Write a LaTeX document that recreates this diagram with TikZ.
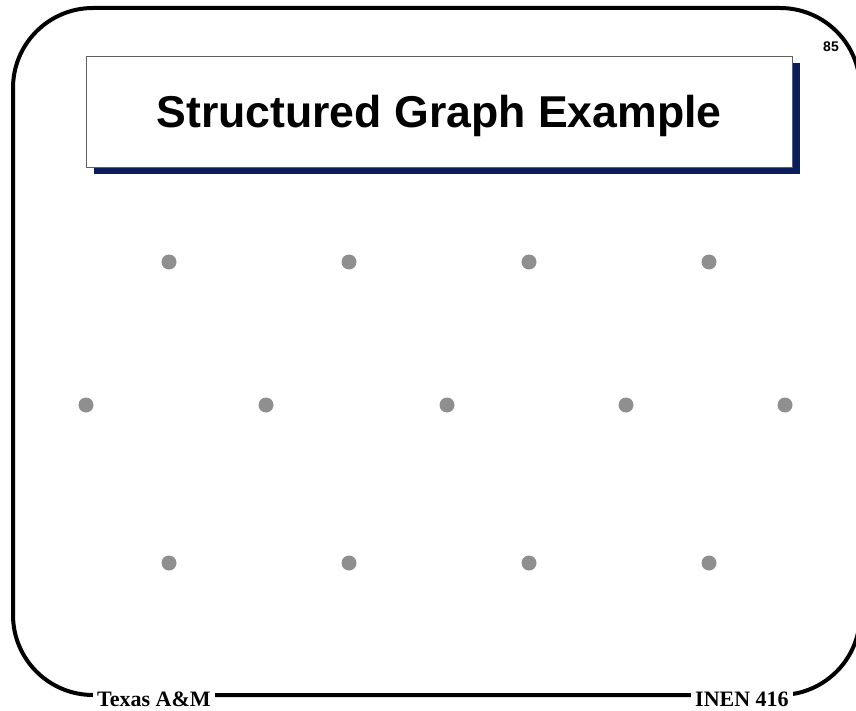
\documentclass[tikz,border=0pt]{standalone}
\usepackage{fontspec}
\setmainfont{Liberation Serif}
\newfontfamily\headfont{Liberation Sans}
\definecolor{navyshadow}{RGB}{12,30,90}
\definecolor{dotgray}{RGB}{143,143,143}
\definecolor{boxedge}{RGB}{96,96,96}
\tikzset{
  vertex/.style={circle, fill=dotgray, draw=none, minimum size=15pt, inner sep=0pt},
  slideframe/.style={line width=4pt, draw=black, rounded corners=80pt},
  footer/.style={fill=white, inner xsep=4pt, inner ysep=1pt, font=\bfseries\fontsize{22}{24}\selectfont},
}
\begin{document}
\begin{tikzpicture}[x=1pt, y=-1pt]
  \useasboundingbox (0,0) rectangle (856,711);
  \fill[white] (0,0) rectangle (856,711);

  % slide frame
  \draw[slideframe] (13,8) rectangle (860,695);

  % title box with drop shadow
  \fill[navyshadow] (94,63) rectangle (800,174);
  \draw[boxedge, fill=white, line width=0.9pt] (86,56) rectangle (792,167);
  \node[anchor=base, inner sep=0pt, font=\headfont\bfseries\fontsize{44.6}{50}\selectfont]
    (title) at (439,128) {Structured Graph Example};

  % page number
  \node[anchor=base, inner sep=0pt, font=\headfont\bfseries\fontsize{14}{16}\selectfont]
    (pagenum) at (831,52) {85};

  % footer labels over the frame line
  \node[footer, anchor=base west] (lfoot) at (93,706) {Texas A\&M};
  \node[footer, anchor=base west] (rfoot) at (691,706) {INEN 416};

  % vertices
  \node[vertex] (a1) at (169,262) {};
  \node[vertex] (a2) at (349,262) {};
  \node[vertex] (a3) at (529,262) {};
  \node[vertex] (a4) at (709,262) {};

  \node[vertex] (b1) at (86,405) {};
  \node[vertex] (b2) at (266,405) {};
  \node[vertex] (b3) at (447,405) {};
  \node[vertex] (b4) at (626,405) {};
  \node[vertex] (b5) at (785,405) {};

  \node[vertex] (c1) at (169,563) {};
  \node[vertex] (c2) at (349,563) {};
  \node[vertex] (c3) at (529,563) {};
  \node[vertex] (c4) at (709,563) {};
\end{tikzpicture}
\end{document}
